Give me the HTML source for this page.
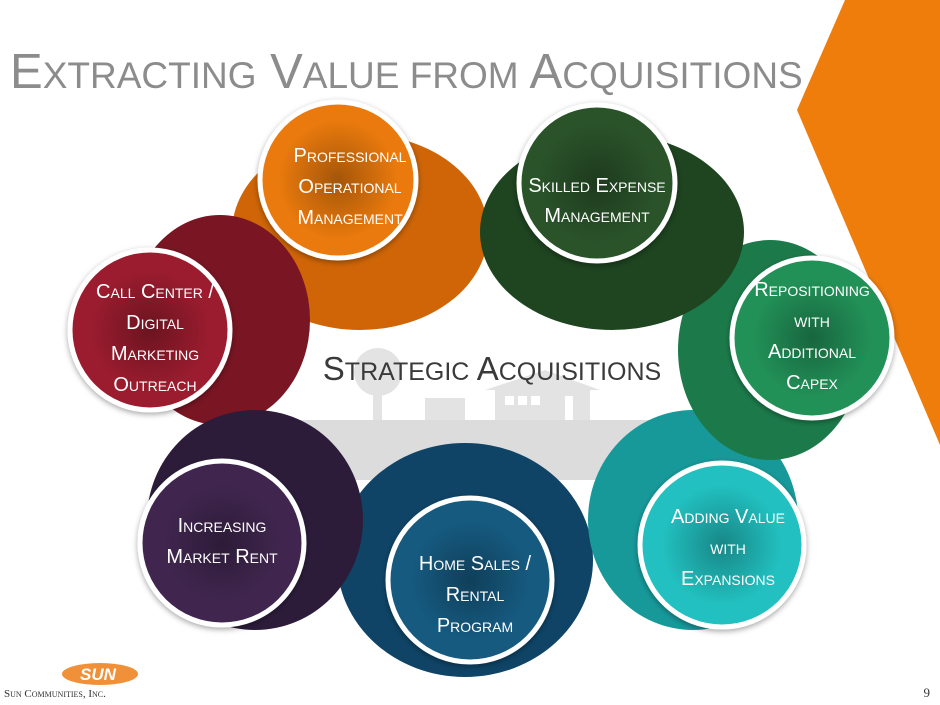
<!DOCTYPE html>
<html><head><meta charset="utf-8"><style>
body{margin:0;width:940px;height:705px;overflow:hidden;background:#fff}
svg{display:block}
text{font-family:"Liberation Sans",sans-serif;font-variant:small-caps}
</style></head><body>
<svg width="940" height="705" viewBox="0 0 940 705">
<defs>
<radialGradient id="g" cx="50%" cy="50%" r="50%"><stop offset="0" stop-color="#000" stop-opacity="0.3"/><stop offset="1" stop-color="#000" stop-opacity="0"/></radialGradient>
<filter id="sh" x="-20%" y="-20%" width="140%" height="140%"><feDropShadow dx="0" dy="2" stdDeviation="3" flood-opacity="0.35"/></filter>
</defs>
<polygon points="845,0 940,0 940,445 797,110" fill="#ee7d0c"/>
<text x="10" y="88" font-size="49" fill="#8c8c8c" style="font-variant:normal">E<tspan font-size="37">XTRACTING</tspan> V<tspan font-size="37">ALUE FROM</tspan> A<tspan font-size="37">CQUISITIONS</tspan></text>
<!-- ground -->
<rect x="290" y="420" width="360" height="60" fill="#dcdcdc"/>
<circle cx="378" cy="372" r="24" fill="#e3e3e3"/><rect x="373" y="390" width="9" height="30" fill="#e3e3e3"/>
<rect x="425" y="398" width="40" height="22" fill="#e3e3e3"/>
<polygon points="485,390 545,370 600,390 590,390 590,420 495,420 495,390" fill="#e3e3e3"/>
<rect x="505" y="396" width="9" height="9" fill="#fff"/><rect x="518" y="396" width="9" height="9" fill="#fff"/><rect x="531" y="396" width="9" height="9" fill="#fff"/><rect x="565" y="396" width="8" height="24" fill="#fff"/>
<!-- ring segments -->
<ellipse cx="465" cy="560" rx="128" ry="117" fill="#0f4466"/>
<ellipse cx="693" cy="520" rx="105" ry="110" fill="#17999a"/>
<ellipse cx="770" cy="350" rx="92" ry="110" fill="#1c7a4a"/>
<ellipse cx="360" cy="232" rx="128" ry="98" fill="#cf6507"/>
<ellipse cx="612" cy="232" rx="132" ry="98" fill="#1e4420"/>
<ellipse cx="220" cy="320" rx="90" ry="105" fill="#7a1523"/>
<ellipse cx="255" cy="520" rx="108" ry="110" fill="#2c1c3a"/>
<text x="492" y="380" font-size="33" fill="#3a3a3a" text-anchor="middle" style="font-variant:normal">S<tspan font-size="25">TRATEGIC</tspan> A<tspan font-size="25">CQUISITIONS</tspan></text>
<!-- small circles -->
<g stroke="#fff" stroke-width="5" filter="url(#sh)">
<circle cx="338" cy="180" r="78" fill="#ea7a0a"/>
<circle cx="597" cy="183" r="78" fill="#2a5329"/>
<circle cx="150" cy="330" r="80" fill="#9a1b2e"/>
<circle cx="812" cy="338" r="80" fill="#219158"/>
<circle cx="222" cy="543" r="82" fill="#41254f"/>
<circle cx="470" cy="580" r="82" fill="#155a80"/>
<circle cx="722" cy="545" r="82" fill="#20c0c0"/>
</g>
<g fill="url(#g)">
<circle cx="338" cy="180" r="60"/><circle cx="597" cy="183" r="60"/><circle cx="150" cy="330" r="60"/><circle cx="812" cy="338" r="60"/><circle cx="222" cy="543" r="60"/><circle cx="470" cy="580" r="60"/><circle cx="722" cy="545" r="60"/>
</g>
<g fill="#fff" font-size="20" text-anchor="middle">
<text x="350" y="162">Professional</text><text x="350" y="193">Operational</text><text x="350" y="224">Management</text>
<text x="597" y="192">Skilled Expense</text><text x="597" y="222">Management</text>
<text x="155" y="298">Call Center /</text><text x="155" y="329">Digital</text><text x="155" y="360">Marketing</text><text x="155" y="391">Outreach</text>
<text x="812" y="296">Repositioning</text><text x="812" y="327">with</text><text x="812" y="358">Additional</text><text x="812" y="389">Capex</text>
<text x="222" y="532">Increasing</text><text x="222" y="563">Market Rent</text>
<text x="475" y="570">Home Sales /</text><text x="475" y="601">Rental</text><text x="475" y="632">Program</text>
<text x="728" y="523">Adding Value</text><text x="728" y="554">with</text><text x="728" y="585">Expansions</text>
</g>
<!-- logo -->
<ellipse cx="100" cy="674" rx="38" ry="11" fill="#f0913a"/>
<text x="80" y="680" font-size="17" font-weight="bold" fill="#fff" font-style="italic" style="font-variant:normal">SUN</text>
<text x="4" y="697" font-size="11" fill="#333" style="font-family:'Liberation Serif',serif">Sun Communities, Inc.</text>
<text x="930" y="697" font-size="13" fill="#333" text-anchor="end" style="font-family:'Liberation Serif',serif;font-variant:normal">9</text>
</svg>
</body></html>
